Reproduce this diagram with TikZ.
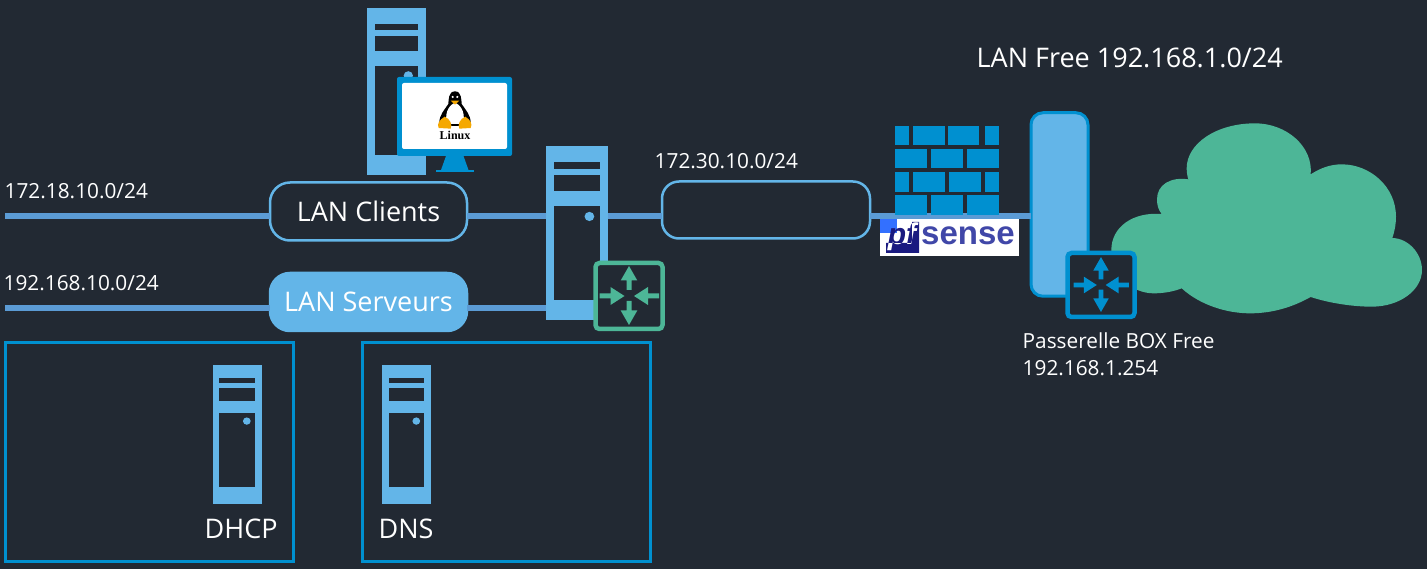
\documentclass[tikz,border=0pt]{standalone}
\usepackage{fontspec}
\setmainfont{Open Sans}
\newfontfamily\serifb{Liberation Serif}
\newfontfamily\arialb{Liberation Sans}
\definecolor{bgc}{HTML}{222933}
\definecolor{lblue}{HTML}{63B5E8}
\definecolor{wirec}{HTML}{5B9BD5}
\definecolor{dblue}{HTML}{0090D0}
\definecolor{greenc}{HTML}{4DB697}
\definecolor{navyc}{HTML}{1A1A80}
\definecolor{sensec}{HTML}{4047A8}
\definecolor{tuxo}{HTML}{F5A800}
\tikzset{
  wire/.style={draw=wirec,line width=5.5pt},
  lanbox/.style={draw=lblue,line width=2.5pt,rounded corners=20pt,inner sep=0pt,outer sep=0pt,text=white,font=\fontsize{27}{29}\selectfont},
  srvbody/.style={fill=lblue,inner sep=0pt,outer sep=0pt},
  frameb/.style={draw=dblue,line width=3pt,inner sep=0pt,outer sep=0pt},
  lbl/.style={text=white,inner sep=0pt,anchor=west,align=left},
  lblsmall/.style={lbl,font=\fontsize{20.8}{27}\selectfont},
  lblbig/.style={lbl,font=\fontsize{27}{29}\selectfont},
  brick/.style={fill=dblue},
}
% name x0 y0 x1 y1
\newcommand{\srv}[5]{%
  \pgfmathsetmacro{\srvw}{#4-#2}\pgfmathsetmacro{\srvh}{#5-#3}%
  \node[srvbody,minimum width=\srvw pt,minimum height=\srvh pt] (#1) at ({(#2+#4)/2},{(#3+#5)/2}) {};
  \begin{scope}[shift={(#2,#3)},x=\srvw pt,y=-\srvh pt]
    \fill[bgc] (.135,.094) rectangle (.865,.132);
    \fill[bgc] (.135,.168) rectangle (.865,.257);
    \fill[bgc] (.135,.346) rectangle (.865,.883);
    \fill[lblue] (.70,.405) ellipse [x radius=.0785,y radius=.0265];
  \end{scope}}
% name cx cy halfwidth halfheight colour arrow-scale
\newcommand{\routr}[7]{%
  \node[draw=#6,fill=bgc,line width=4.5pt,rounded corners=4pt,inner sep=0pt,outer sep=0pt,minimum width={2*(#4)*1pt},minimum height={2*(#5)*1pt}] (#1) at (#2,#3) {};
  \begin{scope}[shift={(#2,#3)},x=#7pt,y=#7pt]
    \fill[#6] (0,-29)--(8.3,-14.5)--(2.5,-14.5)--(2.5,-5)--(-2.5,-5)--(-2.5,-14.5)--(-8.3,-14.5)--cycle;
    \fill[#6] (0,30)--(8.3,15.5)--(2.5,15.5)--(2.5,6)--(-2.5,6)--(-2.5,15.5)--(-8.3,15.5)--cycle;
    \fill[#6] (-4.5,0)--(-18.5,-9)--(-18.5,-2.5)--(-29.5,-2.5)--(-29.5,2.5)--(-18.5,2.5)--(-18.5,9)--cycle;
    \fill[#6] (5,0)--(19,-9)--(19,-2.5)--(30,-2.5)--(30,2.5)--(19,2.5)--(19,9)--cycle;
  \end{scope}}
\begin{document}
\begin{tikzpicture}[x=1pt,y=-1pt]
\useasboundingbox (0,0) rectangle (1427,569);
\fill[bgc] (0,0) rectangle (1427,569);

% cloud
\begin{scope}[shift={(1100,110)},x=.33333pt,y=-.33333pt]
\fill[greenc] (185,312)
 .. controls (100,305) and (34,350) .. (34,420)
 .. controls (34,500) and (100,550) .. (160,550)
 .. controls (190,550) and (220,545) .. (245,535)
 .. controls (300,585) and (380,610) .. (450,610)
 .. controls (520,610) and (580,590) .. (632,561)
 .. controls (690,580) and (760,590) .. (815,590)
 .. controls (900,590) and (966,540) .. (966,480)
 .. controls (966,430) and (925,385) .. (877,384)
 .. controls (885,360) and (888,340) .. (888,320)
 .. controls (888,230) and (810,163) .. (725,163)
 .. controls (690,163) and (660,175) .. (632,193)
 .. controls (640,110) and (560,40) .. (465,40)
 .. controls (350,40) and (260,100) .. (260,175)
 .. controls (260,185) and (262,200) .. (265,208)
 .. controls (210,200) and (171,225) .. (171,268)
 .. controls (171,285) and (175,300) .. (185,312) -- cycle;
\end{scope}

% frames
\node[frameb,minimum width=288pt,minimum height=218.5pt] (fa) at (149.5,451.75) {};
\node[frameb,minimum width=288pt,minimum height=218.5pt] (fb) at (506.5,451.75) {};

% LAN boxes
\node[lanbox,minimum width=197pt,minimum height=58pt] (clients) at (368.5,211.5) {\raisebox{-1pt}{LAN Clients}};
\node[lanbox,fill=lblue,minimum width=197pt,minimum height=58pt] (serveurs) at (368.5,302) {\raisebox{-1pt}{LAN Serveurs}};
\node[lanbox,rounded corners=17pt,minimum width=208pt,minimum height=57pt] (dmz) at (766,210) {};

% servers
\srv{top}{367}{8}{426}{175}
\srv{mid}{546}{146}{608}{320}
\srv{dhcp}{212.5}{365}{261.5}{503.5}
\srv{dns}{382}{365}{431}{503.5}

% pfsense logo
\node[fill=white,inner sep=0pt,outer sep=0pt,minimum width=139pt,minimum height=38pt] (logo) at (949.5,237) {};
\fill[blue!70!cyan!80!white] (880,219) rectangle (897,233);
\fill[navyc] (886,243) -- (912,243) -- (912,222) -- (919,222) -- (919,253) -- (886,253) -- cycle;
\node[text=navyc,inner sep=0pt,font=\arialb\bfseries\itshape\fontsize{30}{30}\selectfont] (pftext) at (902,237) {pf};
\begin{scope}
\clip (886,243) -- (912,243) -- (912,222) -- (919,222) -- (919,253) -- (886,253) -- cycle;
\path (902,237) node[text=white,inner sep=0pt,font=\arialb\bfseries\itshape\fontsize{30}{30}\selectfont] {pf};
\end{scope}
\node[text=sensec,inner sep=0pt,anchor=west,font=\arialb\bfseries\fontsize{33}{33}\selectfont] (sense) at (921,236) {sense};

% bar
\node[draw=dblue,fill=lblue,line width=3pt,rounded corners=12pt,inner sep=0pt,outer sep=0pt,minimum width=57pt,minimum height=183.5pt] (bar) at (1059.5,204.5) {};

% wires
\coordinate (w1) at (5,216);
\coordinate (w2) at (5,308);
\draw[wire] (w1) -- (w1 -| clients.west);
\draw[wire] (clients.east |- w1) -- (mid.west |- w1);
\draw[wire] (mid.east |- w1) -- (dmz.west |- w1);
\draw[wire] (dmz.east |- w1) -- (bar.west |- w1);
\draw[wire] (w2) -- (w2 -| serveurs.west);
\draw[wire] (serveurs.east |- w2) -- (mid.west |- w2);

% firewall
\begin{scope}[shift={(860,100)},x=.33333pt,y=-.33333pt]
\foreach \a/\b in {105/147,159/255,264/357,375/417} \fill[brick] (\a,78) rectangle (\b,134);
\foreach \a/\b in {105/201,213/309,321/417} \fill[brick] (\a,147) rectangle (\b,203);
\foreach \a/\b in {105/147,159/255,267/363,375/417} \fill[brick] (\a,216) rectangle (\b,276);
\foreach \a/\b in {105/201,213/309,321/417} \fill[brick] (\a,285) rectangle (\b,345);
\end{scope}

% routers
\routr{rg}{629}{296}{33.5}{33}{greenc}{1}
\routr{rb}{1101}{285}{33.5}{32}{dblue}{.93}

% monitor
\node[fill=dblue,rounded corners=2pt,inner sep=0pt,outer sep=0pt,minimum width=115pt,minimum height=79pt] (mon) at (454.5,116.5) {};
\fill[dblue] (446,156) -- (463.5,156) -- (468.5,170) -- (441,170) -- cycle;
\fill[dblue] (435.5,170) rectangle (473.5,172.5);
\node[fill=white,rounded corners=2pt,inner sep=0pt,outer sep=0pt,minimum width=105pt,minimum height=66pt] (scr) at (454.5,116) {};
% tux
\begin{scope}[shift={(350,0)},x=.33333pt,y=-.33333pt]
\fill[black] (315,274) .. controls (295,274) and (296,300) .. (295,312) .. controls (283,330) and (268,345) .. (268,368) -- (362,368) .. controls (362,345) and (347,330) .. (335,312) .. controls (334,300) and (335,274) .. (315,274) -- cycle;
\fill[white] (315,308) .. controls (292,318) and (284,345) .. (291,372) -- (339,372) .. controls (346,345) and (338,318) .. (315,308) -- cycle;
\fill[black] (291,372) rectangle (339,378);
\fill[tuxo] (302,302) -- (328,302) -- (315,314) -- cycle;
\fill[white] (308,291) circle (3.5);
\fill[white] (322,291) circle (3.5);
\fill[tuxo] (284,350) .. controls (268,360) and (260,372) .. (266,384) -- (302,386) .. controls (308,374) and (300,356) .. (284,350) -- cycle;
\fill[tuxo] (346,350) .. controls (362,360) and (368,372) .. (362,384) -- (328,386) .. controls (322,374) and (330,356) .. (346,350) -- cycle;
\end{scope}
\node[inner sep=0pt,text=black,font=\serifb\bfseries\fontsize{12}{12}\selectfont] (linuxt) at (455,135.5) {Linux};

% labels
\node[lblsmall] (t1) at (4.5,191) {172.18.10.0/24};
\node[lblsmall] (t2) at (3.5,283) {192.168.10.0/24};
\node[lblsmall] (t3) at (654.5,161.5) {172.30.10.0/24};
\node[lblbig] (t4) at (976.5,58) {LAN Free 192.168.1.0/24};
\node[lblsmall] (t5) at (1022.5,354.5) {Passerelle BOX Free\\192.168.1.254};
\node[lblbig] (t6) at (204.5,529) {DHCP};
\node[lblbig] (t7) at (378.5,529) {DNS};
\end{tikzpicture}
\end{document}
